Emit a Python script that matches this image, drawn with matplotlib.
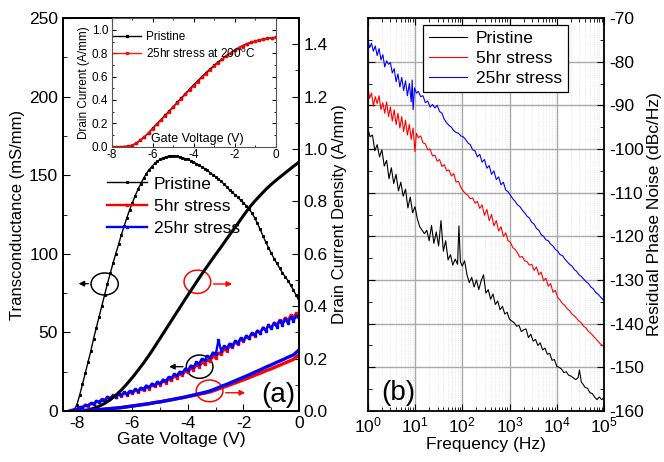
import matplotlib
matplotlib.use('Agg')
import matplotlib.pyplot as plt
import numpy as np
from matplotlib.patches import Ellipse
from matplotlib.ticker import MultipleLocator, LogLocator, FormatStrFormatter

plt.rcParams['font.family'] = ['Liberation Sans', 'DejaVu Sans']
plt.rcParams['axes.unicode_minus'] = False

# ---------------- panel (a) data ----------------
vg_fine = np.round(np.arange(-8.2, 0.001, 0.1), 2)
gm_pristine = [0, 0.8, 4, 10, 17, 24, 31, 38, 46, 53, 60, 67, 74, 81, 87.5, 94, 100, 106, 112,
               117.5, 123, 128, 132.5, 137, 141, 144.5, 148, 151, 153.5, 155.5, 157.5, 159, 160,
               161, 161.7, 162, 162.2, 162.2, 162, 161.7, 161.2, 160.6, 160, 159.2, 158.3, 157.4,
               156.4, 155.3, 154.2, 153, 151.7, 150.3, 149, 147.5, 146, 144.3, 142.6, 140.5, 139,
               137.5, 136, 134, 132.5, 130.5, 128.5, 126, 123, 119.5, 115.5, 111.5, 107.5, 104,
               100.5, 97, 94, 91, 88, 85.5, 83, 80, 77, 73.5, 70]

vg_stress = np.round(np.arange(-8.3, 0.001, 0.1), 2)
gm_25hr = [0.0, 0.4, 0.9, 1.2, 2.3, 2.5, 3.6, 3.5, 4.8, 4.6, 6.1, 5.9, 7.3, 6.9, 8.6, 8.1, 9.8,
           9.2, 10.9, 10.1, 11.8, 10.9, 12.7, 12.0, 13.9, 12.9, 14.8, 14.0, 16.2, 15.1, 17.4, 16.3,
           18.6, 17.6, 20.0, 19.0, 21.6, 20.7, 23.4, 22.6, 25.0, 24.3, 26.9, 26.1, 28.9, 27.9,
           31.0, 30.1, 33.1, 32.2, 35.0, 34.1, 37.2, 36.0, 45.0, 38.3, 41.2, 40.0, 42.8, 41.6,
           44.6, 43.5, 46.4, 45.0, 47.9, 46.6, 49.6, 48.2, 51.0, 49.6, 53.0, 51.1, 54.4, 52.5,
           55.9, 53.6, 57.4, 54.8, 58.3, 56.0, 59.6, 57.4, 60.6, 58.9]
gm_5hr = [0.0, 0.2, 1.1, 1.0, 2.4, 2.2, 3.9, 3.3, 4.9, 4.4, 6.3, 5.7, 7.6, 6.8, 9.0, 8.0, 10.2,
          8.9, 11.0, 9.8, 11.5, 10.4, 12.3, 11.2, 13.1, 12.3, 14.2, 13.4, 15.1, 14.3, 16.4, 15.6,
          17.5, 16.8, 19.0, 18.1, 20.4, 19.6, 22.1, 21.2, 23.8, 22.9, 25.5, 24.6, 27.3, 26.2,
          29.4, 28.1, 30.9, 29.8, 32.7, 31.6, 34.8, 33.7, 37.0, 36.1, 39.2, 38.3, 41.4, 40.4,
          43.6, 42.4, 45.5, 44.3, 47.3, 46.2, 49.3, 48.0, 50.9, 49.9, 52.8, 51.6, 54.5, 53.2,
          56.1, 54.9, 57.8, 56.4, 59.3, 57.9, 60.8, 59.6, 62.4, 60.7]

vg_id = np.round(np.arange(-8.0, 0.001, 0.2), 2)
id_pristine = [0, 0.001, 0.004, 0.01, 0.018, 0.029, 0.043, 0.06, 0.08, 0.103, 0.128, 0.155,
               0.183, 0.213, 0.245, 0.278, 0.311, 0.344, 0.377, 0.41, 0.443, 0.475, 0.507,
               0.538, 0.568, 0.598, 0.627, 0.657, 0.687, 0.716, 0.746, 0.775, 0.8, 0.823,
               0.845, 0.865, 0.883, 0.9, 0.917, 0.934, 0.95]
id_25hr = [0, 0.001, 0.002, 0.003, 0.005, 0.007, 0.009, 0.011, 0.013, 0.016, 0.019, 0.022,
           0.025, 0.028, 0.032, 0.035, 0.039, 0.043, 0.047, 0.051, 0.056, 0.061, 0.066, 0.071,
           0.077, 0.085, 0.094, 0.102, 0.111, 0.12, 0.129, 0.138, 0.148, 0.157, 0.167, 0.176,
           0.186, 0.195, 0.205, 0.214, 0.233]
id_5hr = [0, 0.001, 0.002, 0.003, 0.005, 0.007, 0.009, 0.011, 0.013, 0.016, 0.019, 0.022,
          0.025, 0.028, 0.032, 0.035, 0.039, 0.043, 0.047, 0.051, 0.055, 0.059, 0.064, 0.068,
          0.073, 0.08, 0.088, 0.095, 0.103, 0.111, 0.119, 0.127, 0.136, 0.144, 0.153, 0.161,
          0.17, 0.179, 0.188, 0.197, 0.215]

# inset transfer curves
vg_inset = np.round(np.arange(-8.0, 0.001, 0.2), 2)
inset_pristine = [0, 0, 0, 0.001, 0.003, 0.01, 0.03, 0.055, 0.085, 0.12, 0.158, 0.195, 0.232,
                  0.268, 0.305, 0.342, 0.38, 0.418, 0.455, 0.493, 0.53, 0.565, 0.6, 0.633,
                  0.666, 0.697, 0.726, 0.754, 0.78, 0.805, 0.828, 0.848, 0.866, 0.882, 0.895,
                  0.905, 0.914, 0.921, 0.927, 0.932, 0.937]
inset_stress = [0, 0, 0, 0.001, 0.004, 0.012, 0.032, 0.056, 0.085, 0.118, 0.155, 0.191, 0.227,
                0.263, 0.3, 0.337, 0.374, 0.412, 0.449, 0.486, 0.523, 0.558, 0.593, 0.626,
                0.659, 0.69, 0.72, 0.749, 0.776, 0.801, 0.825, 0.846, 0.865, 0.881, 0.894,
                0.905, 0.914, 0.921, 0.927, 0.932, 0.937]

# ---------------- panel (b) data ----------------
logf_pristine = [0.00, 0.05, 0.10, 0.15, 0.20, 0.25, 0.30, 0.35, 0.40, 0.45, 0.50, 0.55, 0.60,
                 0.65, 0.70, 0.75, 0.80, 0.85, 0.90, 0.95, 1.00, 1.05, 1.10, 1.15, 1.20, 1.25,
                 1.30, 1.35, 1.40, 1.45, 1.50, 1.55, 1.60, 1.65, 1.70, 1.75, 1.80, 1.85, 1.90,
                 1.93, 1.96, 2.00, 2.05, 2.10, 2.15, 2.20, 2.25, 2.30, 2.35, 2.40, 2.45, 2.50,
                 2.55, 2.60, 2.65, 2.70, 2.75, 2.80, 2.85, 2.90, 2.95, 3.00, 3.05, 3.10, 3.15,
                 3.20, 3.25, 3.30, 3.35, 3.40, 3.45, 3.50, 3.55, 3.60, 3.65, 3.70, 3.75, 3.80,
                 3.85, 3.90, 3.95, 4.00, 4.05, 4.10, 4.15, 4.20, 4.25, 4.30, 4.35, 4.40, 4.45,
                 4.48, 4.52, 4.55, 4.60, 4.65, 4.70, 4.75, 4.80, 4.85, 4.90, 4.95, 5.00]
pn_pristine = [-95.3, -97.2, -96.8, -100.4, -99.0, -101.8, -100.2, -103.9, -102.6, -106.8,
               -104.3, -107.9, -105.8, -109.6, -107.6, -110.8, -109.2, -113.5, -111.0, -114.6,
               -113.2, -116.0, -117.8, -118.6, -119.4, -118.6, -121.0, -117.5, -121.6, -119.0,
               -122.2, -116.4, -123.4, -121.0, -125.4, -124.2, -126.6, -125.2, -126.4, -117.6,
               -125.8, -126.8, -125.6, -128.8, -130.6, -129.4, -131.6, -130.0, -132.2, -130.2,
               -128.8, -133.0, -132.2, -134.4, -133.2, -135.6, -134.8, -136.8, -136.0, -137.8,
               -137.4, -139.0, -139.4, -139.8, -140.6, -140.4, -141.8, -141.4, -141.2, -143.2,
               -142.4, -144.0, -143.6, -145.0, -144.4, -146.0, -145.6, -147.0, -146.8, -148.4,
               -148.2, -149.8, -150.0, -150.4, -151.2, -151.0, -151.8, -152.0, -152.4, -152.8,
               -152.4, -150.6, -153.4, -153.8, -154.6, -154.8, -155.8, -156.0, -156.8, -157.4,
               -156.8, -157.4, -157.0]

logf_5hr = [0.00, 0.04, 0.08, 0.12, 0.16, 0.20, 0.24, 0.28, 0.32, 0.36, 0.40, 0.44, 0.48, 0.52,
            0.56, 0.60, 0.64, 0.68, 0.72, 0.76, 0.80, 0.84, 0.88, 0.92, 0.96, 1.00, 1.03, 1.07,
            1.12, 1.17, 1.22, 1.27, 1.32, 1.37, 1.42, 1.47, 1.52, 1.57, 1.62, 1.67, 1.72, 1.77,
            1.82, 1.87, 1.92, 1.97, 2.02, 2.07, 2.12, 2.17, 2.22, 2.27, 2.32, 2.37, 2.42, 2.47,
            2.52, 2.57, 2.62, 2.67, 2.72, 2.77, 2.82, 2.87, 2.92, 2.97, 3.02, 3.07, 3.12, 3.17,
            3.22, 3.27, 3.32, 3.37, 3.42, 3.47, 3.52, 3.57, 3.62, 3.67, 3.72, 3.77, 3.82, 3.87,
            3.92, 3.97, 4.02, 4.07, 4.12, 4.17, 4.22, 4.27, 4.32, 4.37, 4.42, 4.47, 4.52, 4.57,
            4.62, 4.67, 4.72, 4.77, 4.82, 4.87, 4.92, 4.97, 5.00]
pn_5hr = [-85.6, -88.4, -87.2, -90.2, -88.0, -89.6, -87.8, -91.0, -89.4, -91.8, -89.2, -92.6,
          -90.4, -93.6, -91.0, -94.4, -91.8, -95.2, -92.6, -96.0, -93.4, -96.8, -94.4, -97.8,
          -95.2, -100.6, -96.4, -97.4, -97.0, -98.6, -98.8, -100.2, -100.0, -101.6, -101.4,
          -102.8, -102.4, -104.0, -103.6, -105.0, -104.8, -106.2, -105.6, -107.6, -107.4,
          -108.8, -109.6, -110.2, -110.6, -111.4, -111.2, -112.4, -112.0, -113.6, -112.8,
          -115.2, -113.8, -116.4, -115.0, -117.6, -116.4, -118.8, -117.8, -120.0, -119.2,
          -121.0, -121.4, -122.6, -123.0, -123.8, -124.8, -124.6, -125.6, -125.8, -126.6,
          -126.4, -127.8, -127.0, -128.8, -128.2, -130.2, -129.6, -131.4, -130.8, -132.8,
          -132.4, -134.0, -134.6, -135.4, -135.8, -136.6, -137.0, -137.8, -138.2, -138.8,
          -139.4, -139.8, -140.6, -141.0, -141.8, -142.2, -142.8, -143.4, -144.0, -144.6,
          -145.0, -145.4]

logf_25hr = [0.00, 0.04, 0.08, 0.12, 0.16, 0.20, 0.24, 0.28, 0.32, 0.36, 0.40, 0.44, 0.48, 0.52,
             0.56, 0.60, 0.64, 0.68, 0.72, 0.76, 0.80, 0.84, 0.88, 0.92, 0.94, 0.96, 0.99, 1.03,
             1.07, 1.12, 1.17, 1.22, 1.27, 1.32, 1.37, 1.42, 1.47, 1.52, 1.57, 1.62, 1.67, 1.72,
             1.77, 1.82, 1.87, 1.92, 1.97, 2.02, 2.07, 2.12, 2.17, 2.22, 2.27, 2.32, 2.37, 2.42,
             2.47, 2.52, 2.57, 2.62, 2.67, 2.72, 2.77, 2.82, 2.87, 2.92, 2.97, 3.02, 3.07, 3.12,
             3.17, 3.22, 3.27, 3.32, 3.37, 3.42, 3.47, 3.52, 3.57, 3.62, 3.67, 3.72, 3.77, 3.82,
             3.87, 3.92, 3.97, 4.02, 4.07, 4.12, 4.17, 4.22, 4.27, 4.32, 4.37, 4.42, 4.47, 4.52,
             4.57, 4.62, 4.67, 4.72, 4.77, 4.82, 4.87, 4.92, 4.97, 5.00]
pn_25hr = [-74.6, -76.8, -75.8, -77.6, -76.4, -78.6, -77.0, -79.6, -78.4, -81.2, -79.8, -80.6,
           -80.2, -82.6, -81.6, -84.6, -82.8, -85.8, -83.6, -86.6, -84.4, -87.8, -85.0, -89.2,
           -84.2, -91.0, -86.0, -87.2, -86.8, -88.0, -87.8, -89.4, -89.0, -90.4, -89.8, -90.6,
           -90.0, -91.4, -91.8, -93.2, -94.0, -94.6, -95.0, -95.8, -96.2, -96.4, -97.0, -97.2,
           -97.8, -98.6, -99.0, -100.2, -100.4, -101.8, -101.2, -103.0, -102.4, -104.4, -103.8,
           -105.8, -105.0, -107.0, -106.4, -108.2, -107.6, -109.4, -109.8, -110.6, -111.4,
           -112.0, -112.8, -113.2, -114.0, -114.6, -115.4, -115.8, -116.8, -117.2, -118.2,
           -118.6, -119.6, -120.0, -120.8, -121.0, -121.8, -122.2, -123.0, -123.4, -124.2,
           -124.4, -125.2, -125.8, -126.4, -126.8, -127.6, -128.0, -128.8, -129.2, -129.8,
           -130.4, -130.8, -131.6, -132.0, -132.8, -133.2, -133.8, -134.4, -134.8]

# ---------------- figure ----------------
fig = plt.figure(figsize=(6.64, 4.62), dpi=100)
ax = fig.add_axes([0.0949, 0.1104, 0.3554, 0.8506])
ax2 = ax.twinx()

ax.plot(vg_fine, gm_pristine, color='black', lw=1, marker='s', ms=1.2, label='Pristine')
ax.plot(vg_stress, gm_5hr, color='red', lw=1.7, marker='s', ms=1.8, label='5hr stress')
ax.plot(vg_stress, gm_25hr, color='blue', lw=1.7, marker='s', ms=1.8, label='25hr stress')
ax2.plot(vg_id, id_pristine, color='black', lw=2.2)
ax2.plot(vg_id, id_5hr, color='red', lw=2.4)
ax2.plot(vg_id, id_25hr, color='blue', lw=2.4)

ax.set_xlim(-8.5, 0)
ax.set_ylim(0, 250)
ax2.set_ylim(0, 1.5)
ax.xaxis.set_major_locator(MultipleLocator(2))
ax.xaxis.set_minor_locator(MultipleLocator(1))
ax.yaxis.set_major_locator(MultipleLocator(50))
ax.yaxis.set_minor_locator(MultipleLocator(25))
ax2.yaxis.set_major_locator(MultipleLocator(0.2))
ax2.yaxis.set_minor_locator(MultipleLocator(0.1))
ax2.yaxis.set_major_formatter(FormatStrFormatter('%.1f'))
ax.tick_params(which='both', direction='in', top=False, right=False, labelsize=12.5)
ax.tick_params(which='major', length=5)
ax.tick_params(which='minor', length=3)
ax2.tick_params(which='both', direction='in', labelsize=12.5)
ax2.tick_params(which='major', length=5)
ax2.tick_params(which='minor', length=3)
ax.set_xlabel('Gate Voltage (V)', fontsize=12.5, labelpad=1)
ax.set_ylabel('Transconductance (mS/mm)', fontsize=12, labelpad=3)
ax2.set_ylabel('Drain Current Density (A/mm)', fontsize=12, labelpad=3)
for a in (ax, ax2):
    for s in a.spines.values():
        s.set_linewidth(1.3)

ax.legend(loc='upper left', bbox_to_anchor=(0.185, 0.597), frameon=False, fontsize=12.5,
          numpoints=1, handlelength=2.3, handletextpad=0.4, labelspacing=0.4,
          borderpad=0, borderaxespad=0)

# circles and arrows
ax.add_patch(Ellipse((-7.0, 80.8), 0.98, 14, fill=False, ec='black', lw=1.1))
ax.annotate('', xy=(-8.04, 81), xytext=(-7.49, 81),
            arrowprops=dict(arrowstyle='-|>', color='black', lw=1, mutation_scale=8))
ax.add_patch(Ellipse((-3.66, 82.2), 0.96, 14.8, fill=False, ec='red', lw=1.1))
ax.annotate('', xy=(-2.31, 80.8), xytext=(-3.18, 80.8),
            arrowprops=dict(arrowstyle='-|>', color='red', lw=1, mutation_scale=8))
ax.add_patch(Ellipse((-3.58, 28.2), 0.96, 14.8, fill=False, ec='black', lw=1.1))
ax.annotate('', xy=(-4.78, 28.2), xytext=(-4.08, 28.2),
            arrowprops=dict(arrowstyle='-|>', color='black', lw=1, mutation_scale=8))
ax.add_patch(Ellipse((-3.22, 12.8), 0.96, 13.8, fill=False, ec='red', lw=1.1))
ax.annotate('', xy=(-1.84, 11.6), xytext=(-2.74, 11.6),
            arrowprops=dict(arrowstyle='-|>', color='red', lw=1, mutation_scale=8))
ax.text(-0.73, 10, '(a)', fontsize=20, ha='center', va='center')

# inset
axi = fig.add_axes([0.1682, 0.6825, 0.247, 0.2779])
axi.plot(vg_inset, inset_pristine, color='black', lw=1, marker='s', ms=1.4, label='Pristine')
axi.plot(vg_inset, inset_stress, color='red', lw=1, marker='s', ms=1.4, alpha=0.9,
         label='25hr stress at 200$\\mathregular{^o}$C')
axi.set_xlim(-8, 0)
axi.set_ylim(0, 1.1)
axi.xaxis.set_major_locator(MultipleLocator(2))
axi.xaxis.set_minor_locator(MultipleLocator(1))
axi.yaxis.set_major_locator(MultipleLocator(0.2))
axi.yaxis.set_minor_locator(MultipleLocator(0.1))
axi.yaxis.set_major_formatter(FormatStrFormatter('%.1f'))
axi.tick_params(which='both', direction='in', labelsize=8.5, top=True, right=True)
axi.tick_params(axis='y', pad=2.5)
axi.tick_params(axis='x', pad=1.5)
axi.tick_params(which='major', length=3)
axi.tick_params(which='minor', length=1.5)
axi.set_ylabel('Drain Current (A/mm)', fontsize=8.5, labelpad=1)
axi.text(0.52, 0.06, 'Gate Voltage (V)', transform=axi.transAxes, fontsize=9,
         ha='center', va='center')
axi.legend(loc='upper left', bbox_to_anchor=(0.0, 0.913), frameon=False, fontsize=8.5,
           numpoints=1, handlelength=2.4, handletextpad=0.4, labelspacing=0.35,
           borderpad=0.1, borderaxespad=0)
for s in axi.spines.values():
    s.set_linewidth(0.8)
    s.set_color('#555555')

# ---------------- panel (b) ----------------
bx = fig.add_axes([0.5538, 0.1104, 0.3559, 0.8506])
bx.plot(10 ** np.array(logf_pristine), pn_pristine, color='black', lw=0.8, label='Pristine')
bx.plot(10 ** np.array(logf_5hr), pn_5hr, color='red', lw=0.8, label='5hr stress')
bx.plot(10 ** np.array(logf_25hr), pn_25hr, color='blue', lw=0.8, label='25hr stress')
bx.set_xscale('log')
bx.set_xlim(1, 1e5)
bx.set_ylim(-160, -70)
bx.xaxis.set_major_locator(LogLocator(base=10, numticks=12))
bx.xaxis.set_minor_locator(LogLocator(base=10, subs=np.arange(2, 10), numticks=12))
bx.yaxis.set_major_locator(MultipleLocator(10))
bx.yaxis.set_minor_locator(MultipleLocator(5))
bx.grid(True, which='major', color='#aaaaaa', lw=1)
bx.grid(True, which='minor', axis='x', color='#dddddd', lw=0.6, ls=':')
bx.set_axisbelow(True)
bx.yaxis.tick_right()
bx.yaxis.set_label_position('right')
bx.tick_params(which='both', direction='in', top=True, left=True, right=True,
               labelleft=False, labelright=True, labelsize=12.5)
bx.tick_params(which='major', length=5)
bx.tick_params(which='minor', length=3)
bx.set_xlabel('Frequency (Hz)', fontsize=12.5, labelpad=1)
bx.set_ylabel('Residual Phase Noise (dBc/Hz)', fontsize=12.5, labelpad=2)
for s in bx.spines.values():
    s.set_linewidth(1.3)
leg = bx.legend(loc='upper left', bbox_to_anchor=(0.233, 0.983), fontsize=12.5,
                handlelength=2.2, handletextpad=0.5, labelspacing=0.28, borderpad=0.35,
                borderaxespad=0, fancybox=False, edgecolor='black', framealpha=1)
leg.get_frame().set_linewidth(0.9)
bx.text(10 ** 0.64, -155.8, '(b)', fontsize=20, ha='center', va='center')

fig.savefig('out.png', dpi=100)
